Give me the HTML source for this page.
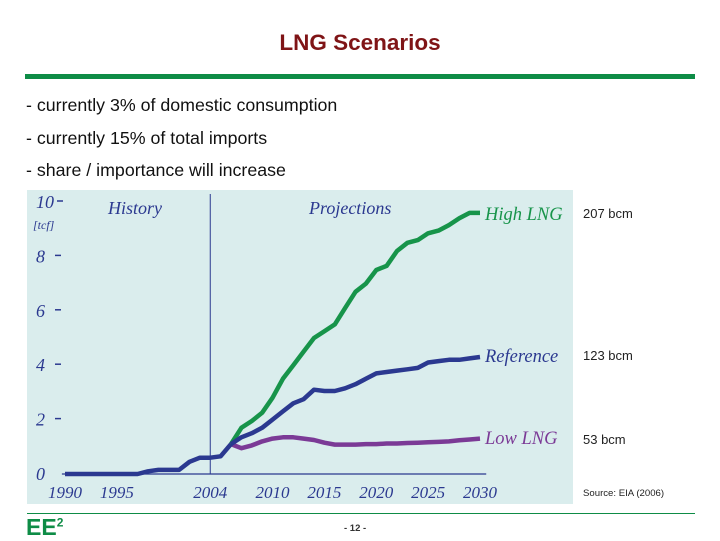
<!DOCTYPE html>
<html><head><meta charset="utf-8"><style>
body{margin:0;width:720px;height:540px;background:#fff;position:relative;overflow:hidden;font-family:"Liberation Sans",sans-serif}
.a{position:absolute}
</style></head><body>
<div class="a" style="left:0;width:720px;top:30px;text-align:center;font-size:22.5px;font-weight:bold;color:#7f1416">LNG Scenarios</div>
<div class="a" style="left:25px;top:74px;width:670px;height:5px;background:#0e8c46"></div>
<div class="a" style="left:26px;top:95px;font-size:17.8px;color:#111">- currently 3% of domestic consumption</div>
<div class="a" style="left:26px;top:128px;font-size:17.8px;color:#111">- currently 15% of total imports</div>
<div class="a" style="left:26px;top:160px;font-size:17.8px;color:#111">- share / importance will increase</div>
<svg class="a" style="left:0;top:0" width="720" height="540">
<rect x="27" y="190" width="546" height="314" fill="#daeded"/>
<g id="g"></g>
</svg>
<div class="a" style="left:583px;top:206px;font-size:13px;color:#222">207 bcm</div>
<div class="a" style="left:583px;top:348px;font-size:13px;color:#222">123 bcm</div>
<div class="a" style="left:583px;top:432px;font-size:13px;color:#222">53 bcm</div>
<div class="a" style="left:583px;top:488px;font-size:9.6px;color:#222">Source: EIA (2006)</div>
<div class="a" style="left:27px;top:513px;width:668px;height:1px;background:#0e8c46"></div>
<div class="a" style="left:26px;top:514px;font-size:23px;font-weight:bold;color:#0e8c46">EE<sup style="font-size:12px">2</sup></div>
<div class="a" style="left:344px;top:523px;font-size:9.5px;font-weight:bold;color:#333">- 12 -</div>
<script>
const histYears=[1990,1991,1992,1993,1994,1995,1996,1997,1998,1999,2000,2001,2002,2003,2004,2005,2006];
const histVals=[0,0,0,0,0,0,0,0,0.1,0.15,0.15,0.15,0.45,0.6,0.6,0.65,1.1];
const projYears=[2006,2007,2008,2009,2010,2011,2012,2013,2014,2015,2016,2017,2018,2019,2020,2021,2022,2023,2024,2025,2026,2027,2028,2029,2030];
const refVals=[1.1,1.35,1.5,1.7,2.0,2.3,2.6,2.75,3.1,3.05,3.05,3.15,3.3,3.5,3.7,3.75,3.8,3.85,3.9,4.1,4.15,4.2,4.2,4.25,4.3];
const highVals=[1.1,1.7,1.95,2.25,2.8,3.5,4.0,4.5,5.0,5.25,5.5,6.1,6.7,7.0,7.5,7.65,8.2,8.5,8.6,8.85,8.95,9.15,9.4,9.6,9.6];
const lowVals=[1.1,0.95,1.05,1.2,1.3,1.35,1.35,1.3,1.25,1.15,1.08,1.08,1.08,1.1,1.1,1.12,1.12,1.14,1.15,1.17,1.18,1.2,1.24,1.27,1.3];
const yTicks=[0,2,4,6,8,10];
const xTicks=[1990,1995,2004,2010,2015,2020,2025,2030];
const x=v=>65+(v-1990)*10.375, y=v=>474-v*27.2;
const g=document.getElementById('g'),NS='http://www.w3.org/2000/svg';
function el(t,a,txt){const e=document.createElementNS(NS,t);for(const k in a)e.setAttribute(k,a[k]);if(txt!=null)e.textContent=txt;g.appendChild(e);return e;}
const ser="font-family:'Liberation Serif',serif;font-style:italic";
let e=el('line',{x1:x(1989.7),x2:x(2030.6),y1:y(0),y2:y(0),stroke:'#2b3990','stroke-width':1.2});

e=el('line',{x1:x(2004),x2:x(2004),y1:194,y2:y(0),stroke:'#2b3990','stroke-width':1});

yTicks.forEach(t=>{
 e=el('text',{x:36,y:y(t)+6,'font-size':18,fill:'#2b3990',style:ser},t);
 
 if(t>0){e=el('line',{x1:t==10?57:55,x2:t==10?63:61,y1:y(t)-1,y2:y(t)-1,stroke:'#2b3990','stroke-width':1.5});
 }
});
xTicks.forEach(t=>{e=el('text',{x:x(t),y:498,'font-size':17,fill:'#2b3990','text-anchor':'middle',style:ser},t);
 });
e=el('text',{x:33,y:229,'font-size':12,fill:'#2b3990',style:ser},'[tcf]');
e=el('text',{x:108,y:214,'font-size':18,fill:'#2b3990',style:ser},'History');
e=el('text',{x:309,y:214,'font-size':18,fill:'#2b3990',style:ser},'Projections');
function line(xs,vs,c,name){const d=xs.map((v,i)=>(i?'L':'M')+x(v).toFixed(1)+' '+y(vs[i]).toFixed(1)).join(' ');
 const p=el('path',{d:d,fill:'none',stroke:c,'stroke-width':4.5,'stroke-linejoin':'round'});
 }
line(projYears,lowVals,'#7b3a96','low-lng-line');
line(projYears,highVals,'#17944a','high-lng-line');
line(projYears,refVals,'#2b3990','reference-line');
line(histYears,histVals,'#2b3990','history-line');
e=el('text',{x:485,y:220,'font-size':18.5,fill:'#17944a',style:ser},'High LNG');
e=el('text',{x:485,y:362,'font-size':18.5,fill:'#2b3990',style:ser},'Reference');
e=el('text',{x:485,y:444,'font-size':18.5,fill:'#7b3a96',style:ser},'Low LNG');
</script>
</body></html>
